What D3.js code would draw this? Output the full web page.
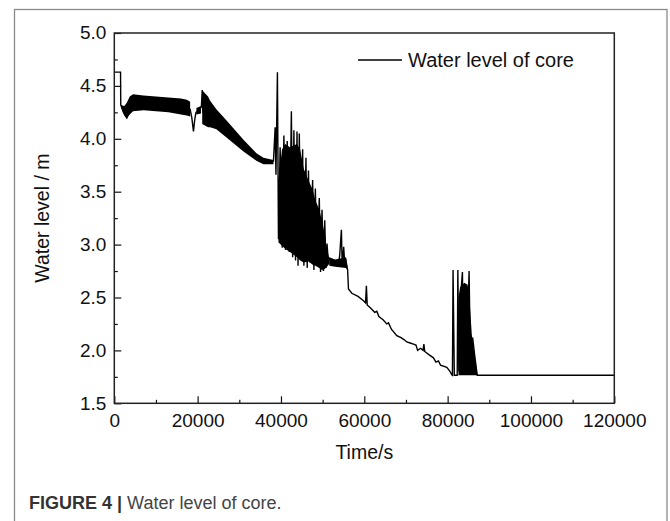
<html>
<head>
<meta charset="utf-8">
<script src="https://d3js.org/d3.v7.min.js"></script>
<style>
  body { margin: 0; background: #fff; }
  text { font-family: "Liberation Sans", Arial, sans-serif; }
</style>
</head>
<body>
<div id="chart"></div>
<script>

// ---- data (time in s, level in m) ----
var xTicks = [0, 20000, 40000, 60000, 80000, 100000, 120000];
var xMinor = [10000, 30000, 50000, 70000, 90000, 110000];
var yTicks = [1.5, 2.0, 2.5, 3.0, 3.5, 4.0, 4.5, 5.0];
var yMinor = [1.75, 2.25, 2.75, 3.25, 3.75, 4.25, 4.75];

// main trace, including the individual spikes
var trace = [
  [0, 4.63], [1500, 4.63], [1550, 4.32], [2200, 4.25], [3000, 4.20], [3800, 4.32],
  [5000, 4.34], [9000, 4.33], [13000, 4.32], [17000, 4.30], [18200, 4.28], [18600, 4.20],
  [19000, 4.07], [19300, 4.18], [19600, 4.25], [20300, 4.27], [20900, 4.30], [21100, 4.46],
  [21300, 4.25], [24500, 4.18], [27000, 4.09], [31000, 3.94], [34200, 3.83], [35800, 3.79],
  [38200, 3.79], [38600, 4.11], [38800, 3.66], [39150, 4.63], [39400, 3.05], [39800, 3.92],
  [40300, 2.97], [40700, 4.03], [41100, 2.95], [41500, 3.98], [42000, 2.93], [42500, 4.26],
  [42800, 2.88], [43100, 4.08], [43500, 2.85], [43850, 4.07], [44100, 2.80], [44400, 4.05],
  [44800, 2.86], [45200, 3.90], [45500, 2.80], [46000, 3.82], [46300, 2.78], [46600, 3.70],
  [47000, 2.83], [47600, 3.61], [47900, 2.76], [48250, 3.53], [48600, 2.80], [49200, 3.44],
  [49500, 2.74], [49850, 3.33], [50200, 2.75], [50500, 3.23], [50800, 2.78], [51050, 3.01],
  [51400, 2.82], [51600, 2.87], [53000, 2.83], [53850, 2.82], [54100, 2.90], [54500, 3.14],
  [54700, 2.80], [55050, 2.98], [55300, 2.82], [55600, 2.85], [56000, 2.76], [56200, 2.58],
  [57000, 2.54], [58500, 2.51], [59800, 2.47], [60300, 2.45], [60500, 2.61], [60700, 2.43],
  [61500, 2.40], [62500, 2.36], [63000, 2.37], [63500, 2.32], [64500, 2.29], [65400, 2.25],
  [65800, 2.26], [66500, 2.20], [67800, 2.14], [68800, 2.12], [69600, 2.10], [70200, 2.08],
  [71000, 2.07], [71800, 2.06], [72400, 2.05], [72800, 2.00], [73500, 2.02], [74100, 2.00],
  [74300, 2.06], [74500, 1.99], [75500, 1.96], [76600, 1.93], [77200, 1.89], [77800, 1.90],
  [78300, 1.86], [79800, 1.84], [80600, 1.80], [81000, 1.77], [81150, 1.765], [81300, 2.76],
  [81600, 1.765], [82300, 1.765], [82450, 2.76], [82700, 1.80], [83000, 2.45], [83550, 2.74],
  [83800, 1.90], [84200, 2.62], [84600, 1.95], [85150, 2.75], [85400, 2.05], [86000, 2.12],
  [86500, 1.95], [87100, 1.765], [120000, 1.765]
];

// dense oscillation bands: [time, lower edge, upper edge]
var bandEarly = [[1600, 4.30, 4.32], [2400, 4.22, 4.31], [3000, 4.19, 4.34], [3700, 4.23, 4.40],
  [4500, 4.26, 4.42], [7000, 4.27, 4.41], [10000, 4.26, 4.40], [13000, 4.25, 4.39],
  [16000, 4.23, 4.38], [17400, 4.22, 4.37], [18200, 4.21, 4.35]];
var bandDip = [[19700, 4.23, 4.29], [20800, 4.24, 4.31]];
var bandMid = [[21100, 4.14, 4.46], [22500, 4.11, 4.40], [23000, 4.11, 4.36], [24500, 4.09, 4.28],
  [27000, 4.01, 4.17], [31000, 3.88, 3.99], [34200, 3.79, 3.86], [35800, 3.76, 3.82],
  [38200, 3.76, 3.80]];
var bandCore = [[39400, 3.02, 3.60], [40250, 2.99, 3.90], [41000, 2.96, 3.95], [42150, 2.93, 3.92],
  [43850, 2.88, 3.95], [44600, 2.85, 3.90], [45450, 2.83, 3.72], [46650, 2.84, 3.60],
  [47600, 2.81, 3.52], [48250, 2.80, 3.42], [49200, 2.78, 3.33], [49850, 2.76, 3.22],
  [50500, 2.77, 3.10], [51050, 2.79, 2.95], [51600, 2.82, 2.87]];
var bandTail = [[51600, 2.80, 2.88], [53000, 2.79, 2.86], [55600, 2.78, 2.88], [55900, 2.76, 2.80]];
var bandLate = [[82600, 1.765, 2.50], [83000, 1.765, 2.60], [84000, 1.765, 2.64], [84800, 1.765, 2.62],
  [85300, 1.765, 2.45], [85800, 1.765, 2.15], [86500, 1.765, 1.95], [87200, 1.765, 1.765]];

var seriesName = "Water level of core";
var xTitle = "Time/s";
var yTitle = "Water level / m";

function draw() {
  var W = 670, H = 521;
  var pLeft = 114.3, pRight = 614.3, pTop = 33, pBottom = 403.3;

  var svg = d3.select("#chart").append("svg")
    .attr("width", W).attr("height", H);

  // outer figure frame
  svg.append("rect")
    .attr("x", 14.5).attr("y", 9.5)
    .attr("width", 652.5).attr("height", 530)
    .attr("fill", "none").attr("stroke", "#8a8a8a").attr("stroke-width", 1.3);

  var x = d3.scaleLinear().domain([0, 120000]).range([pLeft, pRight]);
  var y = d3.scaleLinear().domain([1.5, 5]).range([pBottom, pTop]);

  var g = svg.append("g");

  // bands
  var area = d3.area()
    .x(function(d) { return x(d[0]); })
    .y0(function(d) { return y(d[1]); })
    .y1(function(d) { return y(d[2]); });

  [bandEarly, bandDip, bandMid, bandCore, bandTail, bandLate].forEach(function(b) {
    g.append("path").attr("d", area(b)).attr("fill", "#000");
  });

  var line = d3.line()
    .x(function(d) { return x(d[0]); })
    .y(function(d) { return y(d[1]); });

  g.append("path")
    .attr("d", line(trace))
    .attr("fill", "none")
    .attr("stroke", "#000")
    .attr("stroke-width", 1.4);

  // axes (ticks point inward)
  svg.append("g")
    .attr("transform", "translate(0," + pBottom + ")")
    .call(d3.axisBottom(x).tickValues(xTicks).tickFormat(d3.format("d"))
      .tickSize(-7).tickSizeOuter(0).tickPadding(10));
  svg.append("g")
    .attr("transform", "translate(0," + pBottom + ")")
    .call(d3.axisBottom(x).tickValues(xMinor).tickFormat("").tickSize(-3.5).tickSizeOuter(0));

  var yAxis = svg.append("g")
    .attr("transform", "translate(" + pLeft + ",0)")
    .call(d3.axisLeft(y).tickValues(yTicks).tickFormat(d3.format(".1f"))
      .tickSize(-7).tickSizeOuter(0).tickPadding(8));
  svg.append("g")
    .attr("transform", "translate(" + pLeft + ",0)")
    .call(d3.axisLeft(y).tickValues(yMinor).tickFormat("").tickSize(-3.5).tickSizeOuter(0));

  svg.selectAll(".tick line").attr("stroke", "#111").attr("stroke-width", 1.2);
  svg.selectAll(".domain").attr("stroke", "none");
  svg.selectAll(".tick text")
    .style("font-size", "19px")
    .attr("fill", "#111");
  yAxis.selectAll(".tick text").attr("dy", "0.3em");

  // plot frame
  svg.append("rect")
    .attr("x", pLeft).attr("y", pTop)
    .attr("width", pRight - pLeft).attr("height", pBottom - pTop)
    .attr("fill", "none").attr("stroke", "#222").attr("stroke-width", 1.5);

  // axis titles
  svg.append("text")
    .attr("x", (pLeft + pRight) / 2).attr("y", 459)
    .attr("text-anchor", "middle")
    .style("font-size", "19.5px").attr("fill", "#111")
    .text(xTitle);

  svg.append("text")
    .attr("transform", "translate(49," + (pTop + pBottom) / 2 + ") rotate(-90)")
    .attr("text-anchor", "middle")
    .style("font-size", "19.5px").attr("fill", "#111")
    .text(yTitle);

  // legend
  svg.append("line")
    .attr("x1", 358).attr("x2", 402).attr("y1", 60).attr("y2", 60)
    .attr("stroke", "#000").attr("stroke-width", 1.5);
  svg.append("text")
    .attr("x", 408).attr("y", 66.5)
    .style("font-size", "20px").attr("fill", "#111")
    .text(seriesName);

  // caption
  var cap = svg.append("text").attr("x", 29).attr("y", 508.5)
    .style("font-size", "18px");
  cap.append("tspan").attr("font-weight", "bold").attr("fill", "#333").text("FIGURE 4 | ");
  cap.append("tspan").attr("fill", "#444").text("Water level of core.");
}

draw();
</script>
</body>
</html>
